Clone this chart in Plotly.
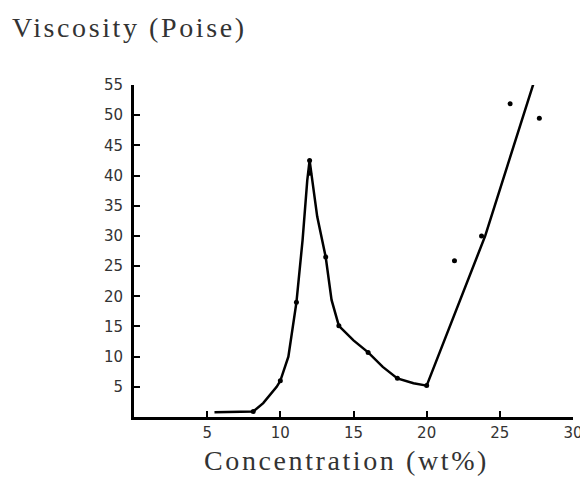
import plotly.graph_objects as go

# viscosity curve
curve_x = [5.5, 8.15, 8.83, 9.3, 9.75, 10.0, 10.55, 11.1, 11.52, 11.84, 12.0, 12.52, 13.1, 13.5, 14.0, 15.0, 16.0, 17.0, 18.0, 19.1, 20.0]
curve_y = [0.8, 0.9, 2.3, 3.6, 5.0, 6.0, 10.0, 19.0, 29.3, 39.2, 42.5, 33.2, 26.5, 19.4, 15.1, 12.7, 10.7, 8.3, 6.4, 5.6, 5.2]

# straight rise after 20 wt%
line_x = [20.0, 24.0, 27.4]
line_y = [5.2, 30.0, 56.0]

# measured points on the curve
pts_x = [8.15, 10.0, 11.1, 12.0, 12.0, 13.1, 14.0, 16.0, 18.0, 20.0, 23.75]
pts_y = [0.9, 6.0, 19.0, 42.5, 40.4, 26.5, 15.1, 10.7, 6.4, 5.2, 30.0]

# scattered points off the line
off_x = [21.9, 25.7, 27.7]
off_y = [25.9, 51.9, 49.5]

x_ticks = [5, 10, 15, 20, 25, 30]
y_ticks = [5, 10, 15, 20, 25, 30, 35, 40, 45, 50, 55]

fig = go.Figure()

fig.add_trace(go.Scatter(x=curve_x, y=curve_y, mode="lines",
                         line=dict(color="black", width=2.5)))
fig.add_trace(go.Scatter(x=line_x, y=line_y, mode="lines",
                         line=dict(color="black", width=2.5)))
fig.add_trace(go.Scatter(x=pts_x, y=pts_y, mode="markers",
                         marker=dict(color="black", size=5)))
fig.add_trace(go.Scatter(x=off_x, y=off_y, mode="markers",
                         marker=dict(color="black", size=5)))

tick_font = dict(family="DejaVu Sans", size=15, color="#333")

fig.update_xaxes(range=[0, 30], tickvals=x_ticks, ticks="inside", ticklen=6, tickwidth=2,
                 tickcolor="black", showline=True, linewidth=3, linecolor="black",
                 showgrid=False, zeroline=False, tickfont=tick_font,
                 ticklabeloverflow="allow", automargin=False)
fig.update_yaxes(range=[0, 55], tickvals=y_ticks, ticks="inside", ticklen=6, tickwidth=2,
                 tickcolor="black", showline=True, linewidth=3, linecolor="black",
                 showgrid=False, zeroline=False, tickfont=tick_font, ticklabelstandoff=5,
                 automargin=False)

# page has an 8px body margin, so the figure is drawn 8px smaller and shifted
W, H = 580, 475
L, R, T, B = 126, 15, 77, 66
pw, ph = W - L - R, H - T - B

fig.add_annotation(text='<span style="letter-spacing:2.6px">Viscosity (Poise)</span>',
                   xref="paper", yref="paper", x=(2 - L) / pw, y=1 + (T - 37) / ph,
                   xanchor="left", yanchor="bottom", showarrow=False,
                   font=dict(family="Liberation Serif", size=28, color="#333"))
fig.add_annotation(text='<span style="letter-spacing:2.6px">Concentration (wt%)</span>',
                   xref="paper", yref="paper", x=(338 - L) / pw, y=-26 / ph,
                   xanchor="center", yanchor="top", showarrow=False,
                   font=dict(family="Liberation Serif", size=28, color="#333"))

fig.update_layout(width=W, height=H, showlegend=False,
                  margin=dict(l=L, r=R, t=T, b=B),
                  plot_bgcolor="white", paper_bgcolor="white")

fig.write_html("out.html")
